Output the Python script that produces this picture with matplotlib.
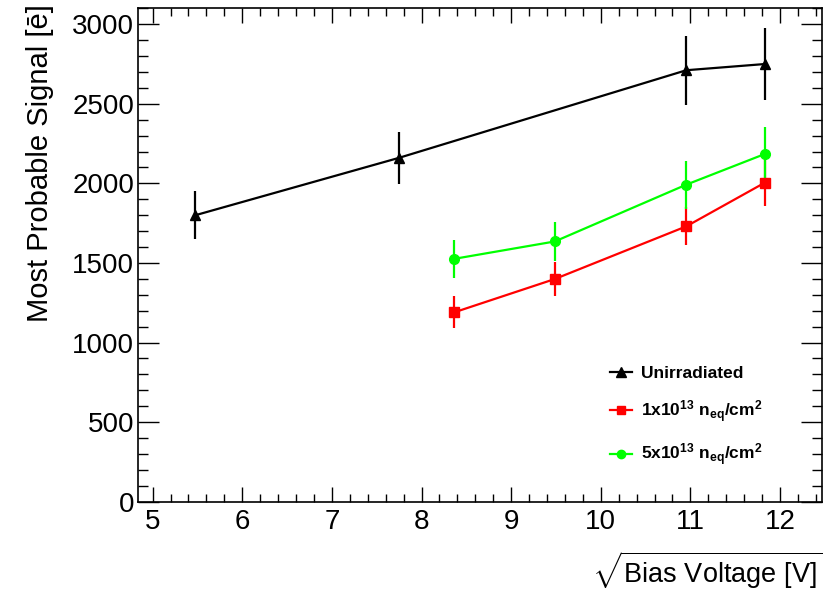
import matplotlib
matplotlib.use("Agg")
import matplotlib.pyplot as plt
import numpy as np
from matplotlib.lines import Line2D
from matplotlib.ticker import MultipleLocator

plt.rcParams["font.family"] = ["Liberation Sans", "DejaVu Sans"]
plt.rcParams["mathtext.fontset"] = "custom"
plt.rcParams["mathtext.rm"] = "Liberation Sans"
plt.rcParams["mathtext.it"] = "Liberation Sans:italic"
plt.rcParams["mathtext.bf"] = "Liberation Sans:bold"

# bias voltages (V), plotted as sqrt
unirr_v = [30, 60, 120, 140]
unirr_mp = [1800, 2160, 2711, 2750]
unirr_err = [150, 165, 218, 228]

f1e13_v = [70, 90, 120, 140]
f1e13_mp = [1190, 1399, 1730, 2005]
f1e13_err = [100, 108, 120, 150]

f5e13_v = [70, 90, 120, 140]
f5e13_mp = [1526, 1635, 1992, 2185]
f5e13_err = [118, 125, 150, 170]

series = [
    (unirr_v, unirr_mp, unirr_err, "black", "^", 7.5, "Unirradiated"),
    (f1e13_v, f1e13_mp, f1e13_err, "#ff0000", "s", 7,
     r"1x10$^{\mathbf{13}}$ n$_{\mathbf{eq}}$/cm$^{\mathbf{2}}$"),
    (f5e13_v, f5e13_mp, f5e13_err, "#00ff00", "o", 7,
     r"5x10$^{\mathbf{13}}$ n$_{\mathbf{eq}}$/cm$^{\mathbf{2}}$"),
]

fig = plt.figure(figsize=(8.31, 5.90), dpi=100)
ax = fig.add_axes([0.1664, 0.1497, 0.8224, 0.8362])

handles = []
for volts, mp, err, col, mk, ms, lab in series:
    x = np.sqrt(volts)
    ax.errorbar(x, mp, yerr=err, color=col, marker=mk, markersize=ms,
                linewidth=1.6, elinewidth=1.6, capsize=0)
    # legend entry: line + marker only, no error bar
    handles.append(Line2D([], [], color=col, marker=mk, markersize=ms - 1,
                          linewidth=1.6, label=lab))

ax.set_xlim(4.84, 12.465)
ax.set_ylim(0, 3100)

ax.xaxis.set_major_locator(MultipleLocator(1))
ax.xaxis.set_minor_locator(MultipleLocator(0.2))
ax.yaxis.set_major_locator(MultipleLocator(500))
ax.yaxis.set_minor_locator(MultipleLocator(100))

ax.tick_params(which="both", direction="in", top=True, right=True,
               width=1.0, labelsize=20)
ax.tick_params(axis="x", which="major", length=11, pad=5)
ax.tick_params(axis="x", which="minor", length=6)
ax.tick_params(axis="y", which="major", length=15, pad=3)
ax.tick_params(axis="y", which="minor", length=7.5)
for sp in ax.spines.values():
    sp.set_linewidth(1.2)

fig.text(40 / 831, 1 - 4 / 590, "Most Probable Signal [ē]", fontsize=21,
         rotation=90, ha="center", va="top")
fig.text(822 / 831, 7 / 590, r"$\sqrt{\mathrm{Bias\ Voltage\ [V]}}$",
         fontsize=19.5, ha="right", va="baseline")

ax.legend(handles=handles, loc="upper left", bbox_to_anchor=(0.667, 0.307),
          frameon=False, prop={"size": 12.5, "weight": "bold"},
          handlelength=1.3, handletextpad=0.5, labelspacing=0.98)

fig.savefig("out.png", dpi=100)
